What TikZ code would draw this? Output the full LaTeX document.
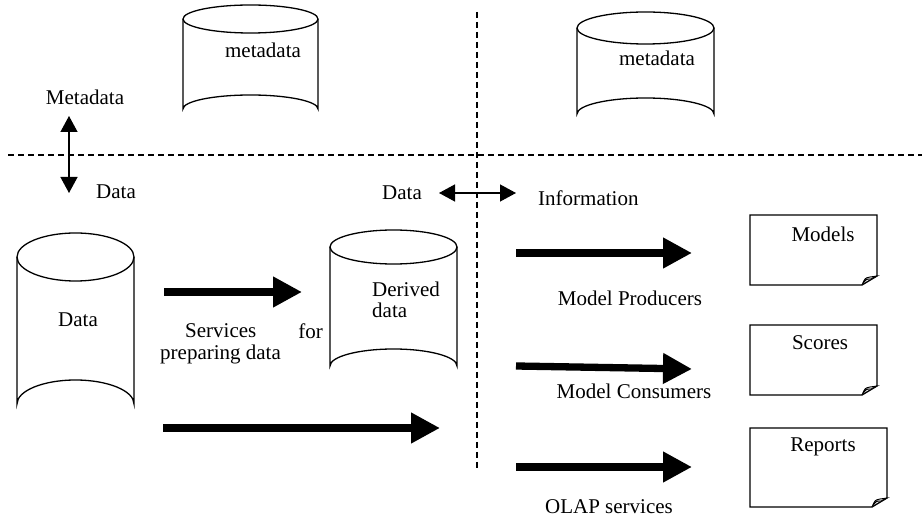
\documentclass[tikz,border=0pt]{standalone}
\usepackage{fontspec}
\setmainfont{Liberation Serif}
\usetikzlibrary{arrows.meta}
\tikzset{
  lbl/.style={inner sep=0pt, font=\fontsize{21}{23}\selectfont},
  bigarrow/.style={line width=7.3pt, -{Triangle[length=29pt,width=29pt]}},
  thinarrow/.style={line width=1.3pt, {Triangle[length=16pt,width=17pt]}-{Triangle[length=16pt,width=17pt]}},
  divider/.style={line width=1.1pt, dash pattern=on 6pt off 4pt},
  outline/.style={line width=1.3pt},
}
\newcommand{\cyl}[5]{% x1 x2 ytop ybot ry
  \pgfmathsetmacro{\cx}{(#1+#2)/2}
  \pgfmathsetmacro{\rx}{(#2-#1)/2}
  \draw[outline] (\cx,#3+#5) ellipse [x radius=\rx, y radius=#5];
  \draw[outline] (#1,#3+#5) -- (#1,#4-#5) arc[start angle=180,end angle=360,x radius=\rx,y radius=#5] -- (#2,#3+#5);
}
\newcommand{\docbox}[4]{% x1 y1 x2 y2
  \draw[outline, fill=white] (#1,#2) -- (#3,#2) -- (#3,#4-9) -- (#3-15,#4) -- (#1,#4) -- cycle;
  \draw[line width=0.9pt, fill=gray!25] (#3-15,#4) .. controls (#3-11,#4-6) .. (#3-6,#4-6) -- (#3,#4-9) -- (#3-7,#4-8) .. controls (#3-12,#4-7) .. (#3-15,#4);
}
\begin{document}
\begin{tikzpicture}[x=1pt,y=-1pt]
\useasboundingbox (0,0) rectangle (924,518);
% dividers
\coordinate (hl) at (8,155); \coordinate (hr) at (922,155);
\coordinate (vt) at (477,12); \coordinate (vb) at (477,470);
\draw[divider] (hl) -- (hr);
\draw[divider] (vt) -- (vb);
% metadata cylinders
\cyl{183}{318}{5}{123}{14}
\node[lbl] (meta1) at (263,50) {metadata};
\cyl{577}{714}{12}{130}{16}
\node[lbl] (meta2) at (657,58) {metadata};
% Metadata / Data double arrow
\node[lbl] (metalbl) at (85,97) {Metadata};
\coordinate (va) at (69,116); \coordinate (vb2) at (69,193);
\draw[thinarrow] (va) -- (vb2);
\node[lbl] (datalbl1) at (116,192) {Data};
% Data / Information
\node[lbl] (datalbl2) at (402,193) {Data};
\coordinate (ha) at (439,193); \coordinate (hb) at (516,193);
\draw[thinarrow] (ha) -- (hb);
\node[lbl, anchor=west] (infolbl) at (538,198) {Information};
% Data cylinder
\cyl{17}{134}{233}{428}{24}
\node[lbl] (datacyl) at (78,320) {Data};
% Derived cylinder
\cyl{330}{457}{230}{383}{17}
\node[lbl, anchor=west] (derived) at (372,289) {Derived};
\node[lbl, anchor=west] (derdata) at (372,310) {data};
% services arrows
\coordinate (a1s) at (164,292); \coordinate (a1e) at (302,292);
\draw[bigarrow] (a1s) -- (a1e);
\node[lbl, anchor=west] (serv) at (185,331) {Services};
\node[lbl, anchor=east] (for) at (323,331) {for};
\node[lbl, anchor=west] (prep) at (160,354) {preparing data};
\coordinate (a2s) at (163,428); \coordinate (a2e) at (440,428);
\draw[bigarrow] (a2s) -- (a2e);
% right arrows
\coordinate (p1) at (516,253); \coordinate (p2) at (692,253);
\draw[bigarrow] (p1) -- (p2);
\node[lbl] (mprod) at (630,298) {Model Producers};
\coordinate (c1) at (516,366); \coordinate (c2) at (692,369);
\draw[bigarrow] (c1) -- (c2);
\node[lbl] (mcons) at (634,391) {Model Consumers};
\coordinate (o1) at (516,467); \coordinate (o2) at (692,467);
\draw[bigarrow] (o1) -- (o2);
\node[lbl] (olap) at (609,507) {OLAP services};
% documents
\docbox{750}{215}{877}{285}
\node[lbl] (models) at (823,234) {Models};
\docbox{750}{325}{877}{395}
\node[lbl] (scores) at (820,343) {Scores};
\docbox{750}{428}{887}{507}
\node[lbl] (reports) at (823,447) {Reports};
\end{tikzpicture}
\end{document}
